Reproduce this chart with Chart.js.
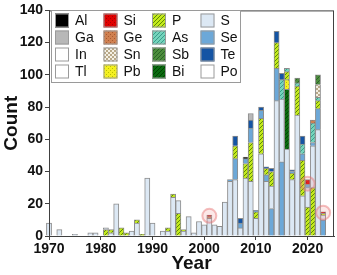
<!DOCTYPE html>
<html lang="en">
<head>
    <meta charset="UTF-8">
    <title>Count per year by element</title>
    <script src="https://cdn.jsdelivr.net/npm/chart.js"></script>
    <style>
        html, body { margin: 0; padding: 0; background: #fff; }
        #wrap { width: 337px; height: 275px; }
    </style>
</head>
<body>
    <div id="wrap"><canvas id="chart" width="337" height="275"></canvas></div>

    <script>
        // --- data: [year, count] pairs ---
        // Se / P segments that sit *below* S in some bars
        const SeLow = [[2013, 17], [2015, 46], [2023, 10]];
        const PLow = [[1981, 4], [1984, 5], [1985, 2], [1988, 1], [1995, 14], [2020, 18], [2021, 30]];
        const S = [[1970, 8], [1972, 4], [1975, 1], [1978, 2], [1979, 2], [1981, 1], [1982, 2], [1983, 20],
            [1986, 3], [1987, 8], [1989, 36], [1990, 8], [1992, 3], [1993, 3], [1994, 24], [1995, 8],
            [1996, 3], [1997, 12], [1998, 2], [1999, 9], [2000, 7], [2001, 11], [2002, 7], [2003, 6],
            [2004, 21], [2005, 34], [2006, 35], [2007, 5], [2008, 36], [2009, 34], [2010, 11], [2011, 51],
            [2012, 34], [2013, 14], [2014, 84], [2015, 39], [2016, 54], [2017, 35], [2018, 75], [2019, 25],
            [2020, 12], [2021, 26], [2022, 66], [2023, 3]];
        const Bi = [[2016, 37]];
        const Pb = [[2016, 6]];
        // Se segment between S and P
        const SeMid = [[2005, 1], [2006, 13], [2012, 4], [2014, 20], [2022, 13]];
        const P = [[1982, 2], [1987, 2], [1993, 2], [1994, 2], [1996, 1], [2006, 8], [2008, 9], [2009, 24],
            [2010, 4], [2011, 22], [2012, 4], [2013, 9], [2014, 16], [2016, 5], [2017, 4], [2018, 18],
            [2019, 22], [2022, 5], [2023, 1]];
        const Se = [[2007, 3], [2008, 3], [2009, 9], [2010, 1], [2011, 5], [2017, 1], [2019, 4], [2020, 2], [2021, 2]];
        const As = [[2015, 12], [2016, 2], [2018, 2], [2019, 6], [2021, 12], [2022, 2]];
        const Te = [[2006, 6], [2007, 3], [2009, 5], [2011, 2], [2012, 1], [2013, 2], [2014, 7], [2015, 4], [2017, 1], [2019, 5]];
        const Sn = [[2022, 8]];
        const Sb = [[2018, 3], [2022, 6]];
        const Ge = [[2001, 1], [2021, 2]];
        const Si = [[2001, 1], [2020, 3], [2023, 1]];
        const Ga = [[2009, 4]];
        const Al = [[2008, 1]];
        const In = [];
        const Tl = [];
        const Po = [];

        // pink rings round the Si entries
        const highlights = [[2001, 12.5], [2020, 32.5], [2023, 14.5]];

        const yTicks = [0, 20, 40, 60, 80, 100, 120, 140];
        const xTicks = [1970, 1980, 1990, 2000, 2010, 2020];
        // legend, column by column
        const legendCols = [['Al', 'Ga', 'In', 'Tl'], ['Si', 'Ge', 'Sn', 'Pb'], ['P', 'As', 'Sb', 'Bi'], ['S', 'Se', 'Te', 'Po']];

        const X_MIN = 1970, X_MAX = 2025.1;
        const PLOT_W = 285; // chart area width in px, used for the bar width

        // small fill patterns
        function pat(bg, fg, kind) {
            const c = document.createElement('canvas');
            c.width = 4; c.height = 4;
            const g = c.getContext('2d');
            g.fillStyle = bg; g.fillRect(0, 0, 4, 4);
            g.fillStyle = fg;
            if (kind === 'diag') {
                g.fillRect(3, 0, 1, 1); g.fillRect(2, 1, 1, 1); g.fillRect(1, 2, 1, 1); g.fillRect(0, 3, 1, 1);
            } else if (kind === 'dots') {
                g.fillRect(0, 0, 1, 1); g.fillRect(2, 2, 1, 1);
            } else if (kind === 'check') {
                g.fillRect(0, 0, 2, 2); g.fillRect(2, 2, 2, 2);
            }
            return g.createPattern(c, 'repeat');
        }

        const fills = {
            Al: '#000000',
            Ga: '#b8b8b8',
            In: '#ffffff',
            Tl: '#ffffff',
            Si: pat('#e00000', '#a80000', 'dots'),
            Ge: pat('#d08050', '#a85a30', 'dots'),
            Sn: pat('#f4f0e4', '#b8a888', 'check'),
            Pb: pat('#f4f020', '#b8c000', 'dots'),
            P: pat('#c4ea1c', '#5c8a00', 'diag'),
            As: pat('#74d4bc', '#3a9c8a', 'diag'),
            Sb: pat('#4c8c3c', '#2a6226', 'diag'),
            Bi: pat('#0a6a10', '#004400', 'diag'),
            S: '#dce8f4',
            Se: '#6ca8d8',
            Te: '#1454a4',
            Po: '#ffffff'
        };

        // stacking order, bottom to top: [series, element]
        const stackOrder = [
            [SeLow, 'Se'], [PLow, 'P'], [S, 'S'], [Bi, 'Bi'], [Pb, 'Pb'], [SeMid, 'Se'], [P, 'P'],
            [Se, 'Se'], [As, 'As'], [Te, 'Te'], [Sn, 'Sn'], [Sb, 'Sb'], [Ge, 'Ge'], [Si, 'Si'],
            [Ga, 'Ga'], [Al, 'Al'], [In, 'In'], [Tl, 'Tl'], [Po, 'Po']
        ];

        const datasets = stackOrder.map(([series, el]) => ({
            label: el,
            data: series.map(([yr, v]) => ({ x: yr, y: v })),
            backgroundColor: fills[el],
            borderColor: '#8c8c8c',
            borderWidth: 1,
            barThickness: PLOT_W / (X_MAX - X_MIN),
            clip: false
        }));

        // box round the plot, pink rings, legend inside the plot
        const frameAndLegend = {
            id: 'frameAndLegend',
            afterDatasetsDraw(chart) {
                const ctx = chart.ctx;
                const a = chart.chartArea;
                const xs = chart.scales.x, ys = chart.scales.y;
                ctx.save();

                highlights.forEach(([yr, v]) => {
                    ctx.beginPath();
                    ctx.arc(xs.getPixelForValue(yr), ys.getPixelForValue(v), 7, 0, Math.PI * 2);
                    ctx.fillStyle = 'rgba(240, 150, 150, 0.22)';
                    ctx.fill();
                    ctx.strokeStyle = 'rgba(230, 110, 110, 0.45)';
                    ctx.lineWidth = 2;
                    ctx.stroke();
                });

                ctx.strokeStyle = '#404040';
                ctx.lineWidth = 1;
                ctx.strokeRect(a.left + 0.5, a.top + 0.5, a.right - a.left - 1, a.bottom - a.top);

                // legend
                ctx.strokeStyle = '#9a9a9a';
                ctx.fillStyle = '#fff';
                ctx.fillRect(51.5, 10.5, 189, 72);
                ctx.strokeRect(51.5, 10.5, 189, 72);
                ctx.font = '14px "Liberation Sans", Arial, sans-serif';
                ctx.textBaseline = 'middle';
                legendCols.forEach((col, c) => {
                    col.forEach((el, r) => {
                        const x = 55 + c * 48.5;
                        const cy = 20.5 + r * 17;
                        ctx.fillStyle = fills[el];
                        ctx.fillRect(x, cy - 7, 14, 14);
                        ctx.strokeStyle = '#9a9a9a';
                        ctx.strokeRect(x + 0.5, cy - 6.5, 13, 13);
                        ctx.fillStyle = '#111';
                        ctx.fillText(el, x + 20, cy + 1);
                    });
                });
                ctx.restore();
            }
        };

        new Chart(document.getElementById('chart').getContext('2d'), {
            type: 'bar',
            data: { datasets },
            options: {
                responsive: false,
                animation: false,
                layout: { padding: { top: 7, right: 3, left: 0, bottom: 0 } },
                plugins: {
                    legend: { display: false },
                    tooltip: { enabled: false }
                },
                scales: {
                    x: {
                        type: 'linear',
                        stacked: true,
                        offset: false,
                        min: X_MIN,
                        max: X_MAX,
                        afterBuildTicks: s => { s.ticks = xTicks.map(v => ({ value: v })); },
                        ticks: {
                            font: { family: '"Liberation Sans", Arial, sans-serif', size: 14, weight: 'bold' },
                            color: '#111',
                            padding: 1,
                            maxRotation: 0,
                            callback: v => String(v)
                        },
                        grid: { drawOnChartArea: false, tickLength: 4, color: '#404040', offset: false },
                        border: { color: '#404040' },
                        title: {
                            display: true,
                            text: 'Year',
                            font: { family: '"Liberation Sans", Arial, sans-serif', size: 19, weight: 'bold' },
                            color: '#111',
                            padding: { top: 3, bottom: 0 }
                        },
                        afterFit: s => { s.height = 39; }
                    },
                    y: {
                        stacked: true,
                        min: 0,
                        max: 140,
                        afterBuildTicks: s => { s.ticks = yTicks.map(v => ({ value: v })); },
                        ticks: {
                            font: { family: '"Liberation Sans", Arial, sans-serif', size: 14, weight: 'bold' },
                            color: '#111',
                            padding: 2
                        },
                        grid: { drawOnChartArea: false, tickLength: 4, color: '#404040' },
                        border: { color: '#404040' },
                        title: {
                            display: true,
                            text: 'Count',
                            font: { family: '"Liberation Sans", Arial, sans-serif', size: 19, weight: 'bold' },
                            color: '#111',
                            padding: { top: 0, bottom: 2 }
                        },
                        afterFit: s => { s.width = 49; }
                    }
                }
            },
            plugins: [frameAndLegend]
        });
    </script>
</body>
</html>
